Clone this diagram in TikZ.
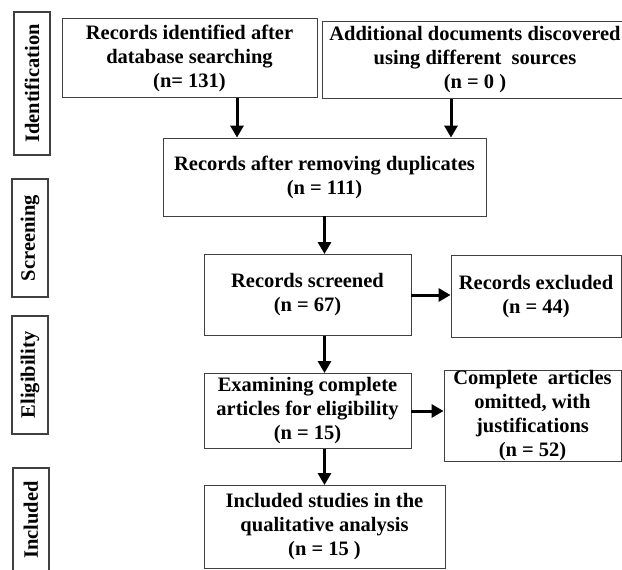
\documentclass[tikz,border=0pt]{standalone}
\usepackage{fontspec}
\setmainfont{Liberation Serif}
\usetikzlibrary{arrows.meta}

\begin{document}
\begin{tikzpicture}[x=1pt, y=-1pt,
    font=\bfseries\fontsize{20.5}{24}\selectfont,
    box/.style={draw=black!75, line width=0.9pt, align=center, inner sep=2pt},
    side/.style={draw=black!75, line width=1.2pt, rotate=90, inner sep=0pt,
                 minimum height=36pt},
    arr/.style={line width=3pt, -{Triangle[length=12pt, width=13pt]}}]
  \clip (0,0) rectangle (622,570);
  % stage labels
  \node[side, minimum width=143pt] (sIdent) at (32, 83.5)  {Identification};
  \node[side, minimum width=118pt] (sScreen) at (30, 238)  {Screening};
  \node[side, minimum width=118pt] (sElig) at (30, 375)    {Eligibility};
  \node[side, minimum width=104pt] (sIncl) at (31, 520)    {Included};
  % boxes
  \node[box, minimum width=255pt, minimum height=79pt] (recs) at (189.5, 58)
       {Records identified after\\database searching\\(n= 131)};
  \node[box, minimum width=306pt, minimum height=77pt] (addl) at (475, 60)
       {Additional documents discovered\\using different~ sources\\(n = 0 )};
  \node[box, minimum width=323pt, minimum height=78pt] (dup) at (324.5, 177)
       {Records after removing duplicates\\(n = 111)};
  \node[box, minimum width=207pt, minimum height=81pt] (scr) at (307.5, 295)
       {Records screened\\(n = 67)};
  \node[box, minimum width=170pt, minimum height=82pt] (excl) at (536, 296.5)
       {Records excluded\\(n = 44)};
  \node[box, minimum width=207pt, minimum height=75pt] (exam) at (307.5, 411)
       {Examining complete\\articles for eligibility\\(n = 15)};
  \node[box, minimum width=177pt, minimum height=89pt, inner sep=0pt] (omit) at (532.5, 416)
       {Complete~ articles\\omitted, with\\justifications\\(n = 52)};
  \node[box, minimum width=241pt, minimum height=83pt] (incl) at (324.5, 527)
       {Included studies in the\\qualitative analysis\\(n = 15 )};
  % arrows
  \draw[arr] (recs.south -| 237,0) -- (dup.north -| 237,0);
  \draw[arr] (addl.south -| 451,0) -- (dup.north -| 451,0);
  \draw[arr] (dup.south) -- (scr.north -| dup.south);
  \draw[arr] (scr.south -| dup.south) -- (exam.north -| dup.south);
  \draw[arr] (exam.south -| dup.south) -- (incl.north);
  \draw[arr] (scr.east) -- (excl.west |- scr.east);
  \draw[arr] (exam.east) -- (omit.west |- exam.east);
\end{tikzpicture}
\end{document}
